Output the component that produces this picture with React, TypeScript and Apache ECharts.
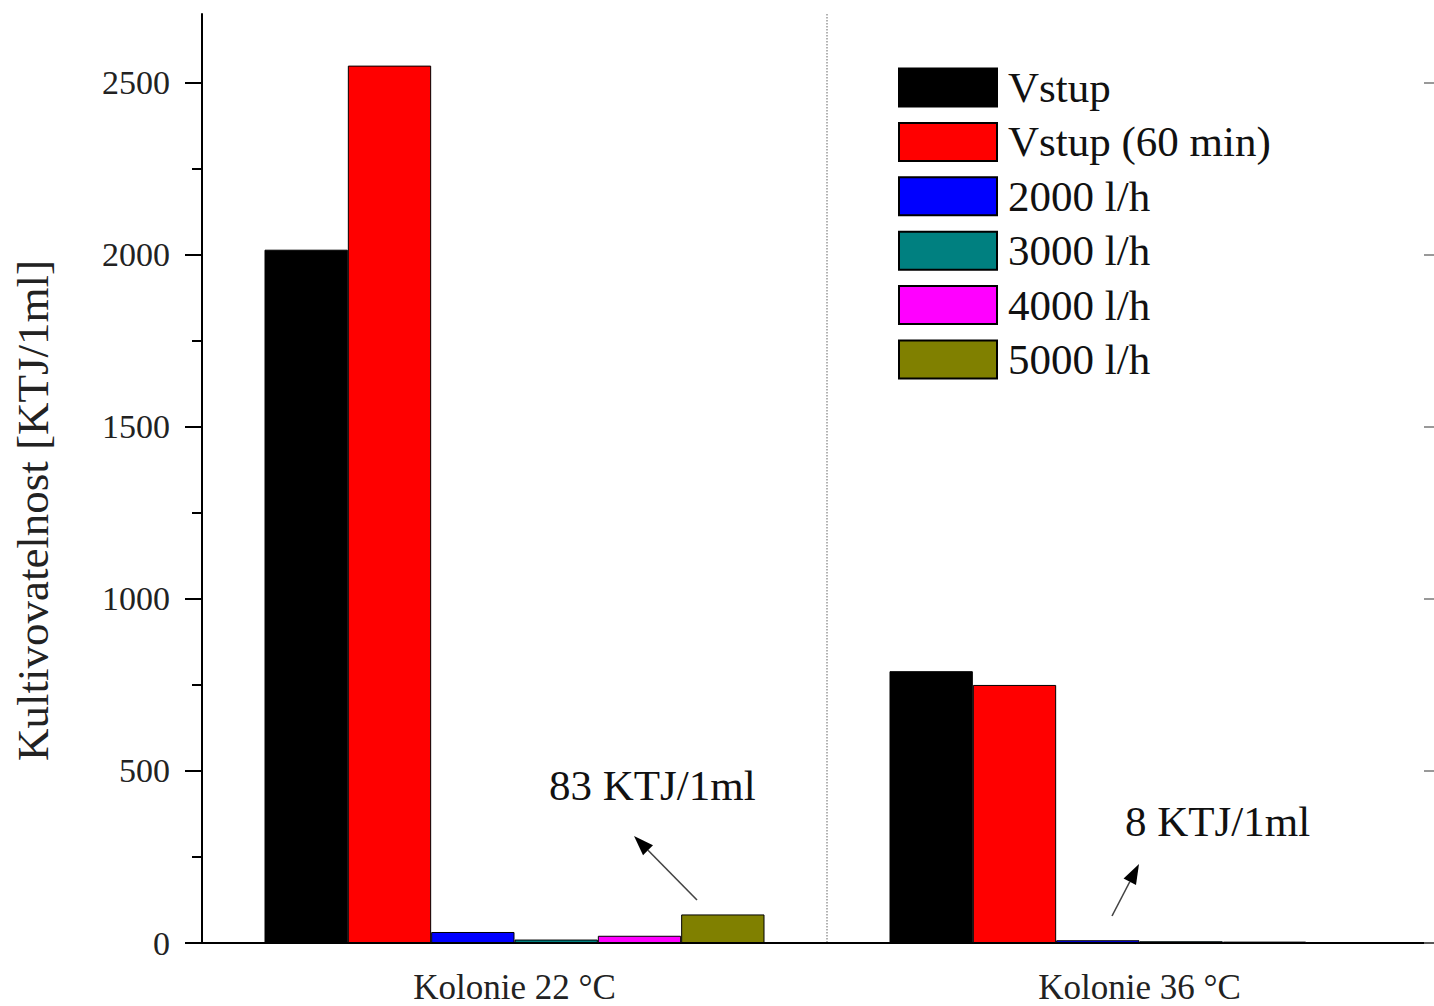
import React, { useEffect, useRef } from "react";
import * as echarts from "echarts";

// Categories and measured culturability values [KTJ/1ml]
const categories = ["Kolonie 22 °C", "Kolonie 36 °C"];
const seriesNames = ["Vstup", "Vstup (60 min)", "2000 l/h", "3000 l/h", "4000 l/h", "5000 l/h"];
const vstup = [2015, 790];
const vstup60 = [2550, 750];
const flow2000 = [32, 8];
const flow3000 = [10, 5];
const flow4000 = [21, 4];
const flow5000 = [83, 2];
const seriesColors = ["#000000", "#ff0000", "#0000ff", "#008080", "#ff00ff", "#808000"];

const majorTicks = [0, 500, 1000, 1500, 2000, 2500];
const minorTicks = [250, 750, 1250, 1750, 2250];

const FONT = '"Liberation Serif", "Times New Roman", serif';

// arrow: thin shaft with a filled head at the tip
function arrow(x1: number, y1: number, x2: number, y2: number) {
  const dx = x2 - x1;
  const dy = y2 - y1;
  const len = Math.sqrt(dx * dx + dy * dy);
  const ux = dx / len;
  const uy = dy / len;
  const headLen = 20;
  const halfW = 7;
  const bx = x2 - ux * headLen;
  const by = y2 - uy * headLen;
  const px = -uy * halfW;
  const py = ux * halfW;
  return {
    type: "group",
    children: [
      {
        type: "line",
        shape: { x1, y1, x2: bx, y2: by },
        style: { stroke: "#444", lineWidth: 1.6 },
      },
      {
        type: "polygon",
        shape: {
          points: [
            [x2, y2],
            [bx + px, by + py],
            [bx - px, by - py],
          ],
        },
        style: { fill: "#000" },
      },
    ],
  };
}

export default function App() {
  const ref = useRef<HTMLDivElement>(null);

  useEffect(() => {
    if (!ref.current) return;
    const chart = echarts.init(ref.current, null, { renderer: "svg" });
    const values = [vstup, vstup60, flow2000, flow3000, flow4000, flow5000];

    const series = seriesNames.map((name, i) => ({
      name,
      type: "bar",
      data: values[i],
      xAxisIndex: 0,
      yAxisIndex: 0,
      barGap: "0%",
      barCategoryGap: "20%",
      itemStyle: { color: seriesColors[i], borderColor: "#000", borderWidth: 1 },
    }));

    chart.setOption({
      animation: false,
      backgroundColor: "#ffffff",
      // the plot frame runs slightly past the right edge of the visible page
      grid: { left: 202, top: 14, right: 0, bottom: 63 },
      legend: {
        orient: "vertical",
        left: 893,
        top: 61,
        itemWidth: 98,
        itemHeight: 38,
        itemGap: 11.4,
        icon: "rect",
        data: seriesNames,
        selectedMode: false,
        textStyle: {
          fontFamily: FONT,
          fontSize: 43,
          color: "#111",
          padding: [0, 0, 0, 6],
        },
      },
      xAxis: [
        {
          type: "category",
          data: categories,
          position: "bottom",
          axisLine: { lineStyle: { color: "#000", width: 2 } },
          axisTick: { alignWithLabel: true, length: 18, lineStyle: { color: "#000", width: 2 } },
          axisLabel: { fontFamily: FONT, fontSize: 35, color: "#222", margin: 27 },
          splitLine: { show: false },
        },
        {
          type: "category",
          data: categories,
          position: "bottom",
          axisLine: { show: false },
          axisTick: { length: 10, lineStyle: { color: "#000", width: 2 } },
          axisLabel: { show: false },
          splitLine: { show: true, lineStyle: { color: "#999", type: "dotted", width: 1.5 } },
        },
        {
          type: "category",
          data: categories,
          position: "top",
          axisLine: { lineStyle: { color: "#000", width: 2 } },
          axisTick: { show: false },
          axisLabel: { show: false },
        },
      ],
      yAxis: [
        {
          type: "value",
          min: 0,
          max: 2700,
          interval: 500,
          position: "left",
          name: "Kultivovatelnost [KTJ/1ml]",
          nameLocation: "middle",
          nameGap: 147,
          nameTextStyle: {
            fontFamily: FONT,
            fontSize: 45,
            color: "#222",
            padding: [0, 64, 0, 0],
          },
          axisLine: { show: true, lineStyle: { color: "#000", width: 2 } },
          axisTick: {
            show: true,
            length: 17,
            customValues: majorTicks,
            lineStyle: { color: "#000", width: 2 },
          },
          axisLabel: {
            fontFamily: FONT,
            fontSize: 34,
            color: "#222",
            margin: 32,
            customValues: majorTicks,
            formatter: (v: number) => String(v),
          },
          splitLine: { show: false },
        },
        {
          type: "value",
          min: 0,
          max: 2700,
          interval: 500,
          position: "left",
          axisLine: { show: false },
          axisTick: {
            show: true,
            length: 10,
            customValues: minorTicks,
            lineStyle: { color: "#000", width: 2 },
          },
          axisLabel: { show: false },
          splitLine: { show: false },
        },
        {
          type: "value",
          min: 0,
          max: 2700,
          interval: 500,
          position: "right",
          axisLine: { show: true, lineStyle: { color: "#000", width: 2 } },
          axisTick: {
            show: true,
            inside: true,
            length: 28,
            customValues: majorTicks,
            lineStyle: { color: "#777", width: 1.5 },
          },
          axisLabel: { show: false },
          splitLine: { show: false },
        },
      ],
      series,
      graphic: [
        {
          type: "text",
          left: 549,
          top: 764,
          style: { text: "83 KTJ/1ml", font: `43px ${FONT}`, fill: "#111" },
        },
        {
          type: "text",
          left: 1125,
          top: 800,
          style: { text: "8 KTJ/1ml", font: `43px ${FONT}`, fill: "#111" },
        },
        arrow(697, 900, 634, 836),
        arrow(1112, 916, 1139, 864),
      ],
    });

    return () => chart.dispose();
  }, []);

  return (
    <div
      ref={ref}
      style={{ position: "fixed", left: 0, top: 0, width: 1452, height: 1006, background: "#fff" }}
    />
  );
}
